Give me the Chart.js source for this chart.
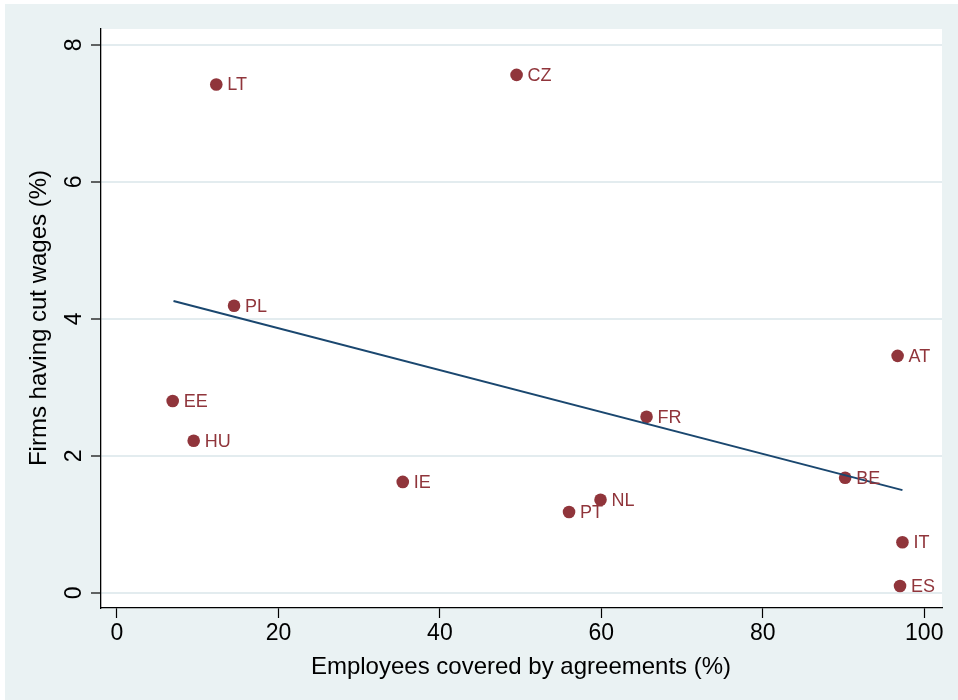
<!DOCTYPE html>
<html>
<head>
<meta charset="utf-8">
<script src="https://cdn.jsdelivr.net/npm/chart.js@4.4.1/dist/chart.umd.min.js"></script>
<style>
  html, body { margin: 0; padding: 0; background: #ffffff; }
  canvas { display: block; }
</style>
</head>
<body>
<canvas id="chart" width="958" height="700"></canvas>
<script>
// Country codes and their values
const countries = ['LT', 'CZ', 'PL', 'AT', 'EE', 'FR', 'HU', 'IE', 'BE', 'NL', 'PT', 'IT', 'ES'];
const coverage  = [12.3, 49.5, 14.5, 96.7, 6.9, 65.6, 9.5, 35.4, 90.2, 59.9, 56.0, 97.3, 97.0];
const wageCuts  = [7.42, 7.56, 4.19, 3.46, 2.80, 2.57, 2.22, 1.62, 1.68, 1.36, 1.18, 0.74, 0.10];

// Fitted regression line endpoints
const fitX = [7.0, 97.3];
const fitY = [4.26, 1.50];

// Axis ticks
const xTicks = [0, 20, 40, 60, 80, 100];
const yTicks = [0, 2, 4, 6, 8];

const FONT = '"Liberation Sans", Arial, Helvetica, sans-serif';
const MAROON = '#90353b';
const NAVY = '#1a476f';
const PANEL = '#eaf2f3';
const GRID = '#e3ecef';

const points = countries.map((c, i) => ({ x: coverage[i], y: wageCuts[i] }));
const fitLine = fitX.map((x, i) => ({ x: x, y: fitY[i] }));

const backgroundPlugin = {
  id: 'panels',
  beforeDraw(chart) {
    const { ctx, chartArea: a, width, height } = chart;
    ctx.save();
    ctx.fillStyle = '#ffffff';
    ctx.fillRect(0, 0, width, height);
    ctx.fillStyle = PANEL;
    ctx.fillRect(5, 4, width - 5, height - 4);
    ctx.fillStyle = '#ffffff';
    ctx.fillRect(a.left, a.top, a.right - a.left, a.bottom - a.top);
    ctx.restore();
  }
};

const textPlugin = {
  id: 'texts',
  afterDatasetsDraw(chart) {
    const { ctx } = chart;
    const meta = chart.getDatasetMeta(1);
    ctx.save();
    ctx.fillStyle = MAROON;
    ctx.font = '18px ' + FONT;
    ctx.textAlign = 'left';
    ctx.textBaseline = 'middle';
    meta.data.forEach((el, i) => {
      ctx.fillText(countries[i], el.x + 11, el.y + 1);
    });
    ctx.restore();
  },
  afterDraw(chart) {
    const { ctx } = chart;
    const ys = chart.scales.y;
    ctx.save();
    ctx.fillStyle = '#000000';
    ctx.font = '23px ' + FONT;
    ctx.textAlign = 'center';
    ctx.textBaseline = 'alphabetic';
    // rotated y tick labels
    yTicks.forEach(v => {
      const py = ys.getPixelForValue(v);
      ctx.save();
      ctx.translate(80.5, py);
      ctx.rotate(-Math.PI / 2);
      ctx.fillText(String(v), 0, 0);
      ctx.restore();
    });
    // axis titles
    ctx.font = '24px ' + FONT;
    ctx.save();
    ctx.translate(45.5, 318);
    ctx.rotate(-Math.PI / 2);
    ctx.fillText('Firms having cut wages (%)', 0, 0);
    ctx.restore();
    ctx.fillText('Employees covered by agreements (%)', 521, 674);
    ctx.restore();
  }
};

new Chart(document.getElementById('chart'), {
  type: 'scatter',
  data: {
    datasets: [
      {
        type: 'line',
        data: fitLine,
        borderColor: NAVY,
        borderWidth: 2,
        pointRadius: 0,
        fill: false,
        tension: 0
      },
      {
        data: points,
        backgroundColor: MAROON,
        borderColor: MAROON,
        borderWidth: 0,
        pointRadius: 6.3,
        pointHoverRadius: 6.3
      }
    ]
  },
  options: {
    responsive: false,
    animation: false,
    events: [],
    layout: { padding: { left: 0, top: 29, right: 16, bottom: 0 } },
    plugins: { legend: { display: false }, tooltip: { enabled: false } },
    scales: {
      x: {
        type: 'linear',
        min: -1.98,
        max: 102.2,
        afterBuildTicks: s => { s.ticks = xTicks.map(v => ({ value: v })); },
        afterFit: s => { s.height = 92; },
        border: { display: true, color: '#000000', width: 1.3 },
        grid: {
          drawOnChartArea: false,
          drawTicks: true,
          tickLength: 10,
          tickColor: '#000000',
          tickWidth: 1.2
        },
        ticks: {
          color: '#000000',
          font: { family: FONT, size: 23 },
          padding: 2,
          maxRotation: 0,
          minRotation: 0
        }
      },
      y: {
        type: 'linear',
        min: -0.22,
        max: 8.23,
        afterBuildTicks: s => { s.ticks = yTicks.map(v => ({ value: v })); },
        afterFit: s => { s.width = 101; },
        border: { display: true, color: '#000000', width: 1.3 },
        grid: {
          color: GRID,
          lineWidth: 2,
          drawTicks: true,
          tickLength: 10,
          tickColor: '#000000',
          tickWidth: 1.2
        },
        ticks: { display: false }
      }
    }
  },
  plugins: [backgroundPlugin, textPlugin]
});
</script>
</body>
</html>
